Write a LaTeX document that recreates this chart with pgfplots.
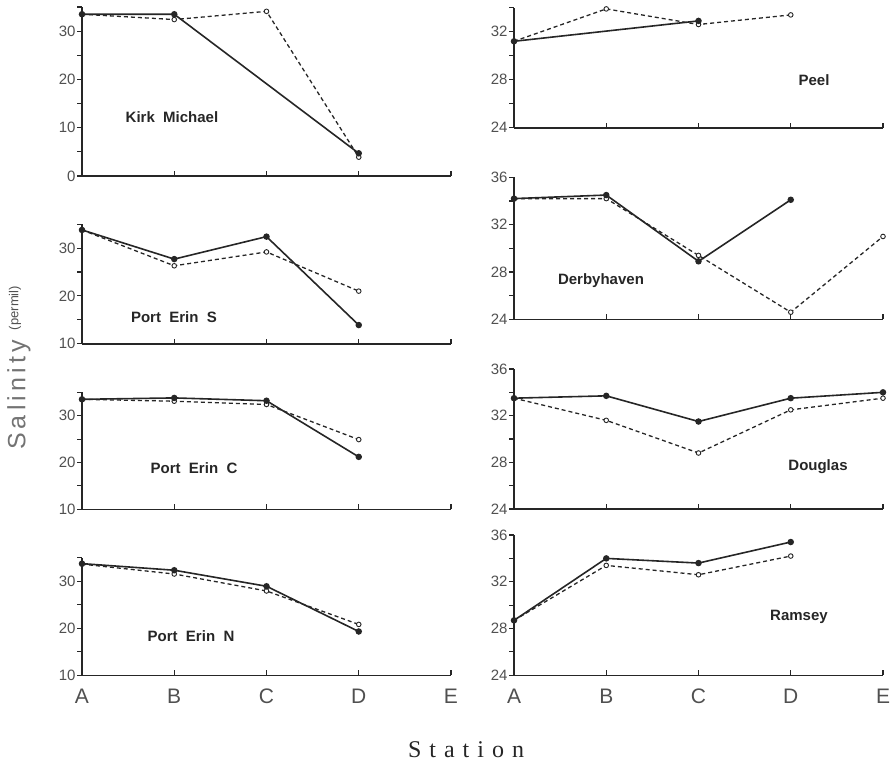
\documentclass[border=0pt]{standalone}
\usepackage{fontspec}
\setmainfont{Liberation Sans}
\newfontfamily\stationfont{Liberation Serif}
\usepackage{pgfplots}
\pgfplotsset{compat=1.18}

\definecolor{ink}{HTML}{262626}
\definecolor{lbl}{HTML}{505050}

\pgfplotsset{
  panel/.style={
    scale only axis, width=369bp,
    axis lines=left, axis line style={-, line width=1.6bp, ink},
    xmin=0, xmax=4, xtick={0,1,2,3,4}, xticklabels={},
    tick align=inside, major tick length=5bp, minor tick length=5bp,
    tick style={line width=1.1bp, ink},
    y tick style={xshift=-5bp},
    minor y tick num=1,
    extra y tick labels={},
    /pgf/number format/assume math mode=true,
    yticklabel style={font=\fontsize{15bp}{17bp}\selectfont, lbl, xshift=-3bp},
    clip=false,
  },
  bottom/.style={xticklabels={A,B,C,D,E},
    xticklabel style={font=\fontsize{21bp}{24bp}\selectfont, lbl, anchor=center, yshift=-21bp}},
  full/.style={ink, line width=1.6bp, mark=*, mark size=2.4bp},
  open/.style={ink, line width=1.3bp, dash pattern=on 4bp off 3bp,
    mark=*, mark size=2.3bp, mark options={solid, fill=white, line width=0.9bp}},
}
\tikzset{stn/.style={font=\fontsize{15bp}{17bp}\selectfont\bfseries, ink}}

\begin{document}
\begin{tikzpicture}
\path[use as bounding box] (0,0) rectangle (893bp,-773bp);

% ---- left column ----
\begin{axis}[panel, at={(82bp,-176bp)}, anchor=south west, height=169bp,
  ymin=0, ymax=35, ytick={0,10,20,30}, extra y ticks={35}]
\addplot[open] coordinates {(0,33.5) (1,32.4) (2,34.1) (3,3.9)};
\addplot[full] coordinates {(0,33.5) (1,33.5) (3,4.7)};
\end{axis}

\begin{axis}[panel, at={(82bp,-343.7bp)}, anchor=south west, height=119.5bp,
  ymin=10, ymax=35, ytick={10,20,30}, extra y ticks={35}]
\addplot[open] coordinates {(0,33.8) (1,26.3) (2,29.2) (3,21.0)};
\addplot[full] coordinates {(0,33.8) (1,27.7) (2,32.4) (3,13.9)};
\end{axis}

\begin{axis}[panel, at={(82bp,-509.3bp)}, anchor=south west, height=117bp,
  ymin=10, ymax=35, ytick={10,20,30}, extra y ticks={35}]
\addplot[open] coordinates {(0,33.5) (1,33.1) (2,32.4) (3,24.9)};
\addplot[full] coordinates {(0,33.5) (1,33.8) (2,33.2) (3,21.2)};
\end{axis}

\begin{axis}[panel, bottom, at={(82bp,-675.3bp)}, anchor=south west, height=117.8bp,
  ymin=10, ymax=35, ytick={10,20,30}, extra y ticks={35}]
\addplot[open] coordinates {(0,33.6) (1,31.5) (2,27.9) (3,20.8)};
\addplot[full] coordinates {(0,33.7) (1,32.3) (2,28.9) (3,19.3)};
\end{axis}

% ---- right column ----
\begin{axis}[panel, at={(514bp,-127.7bp)}, anchor=south west, height=120bp,
  ymin=24, ymax=34, ytick={24,28,32}, extra y ticks={34}]
\addplot[open] coordinates {(0,31.2) (1,33.9) (2,32.6) (3,33.4)};
\addplot[full] coordinates {(0,31.2) (2,32.9)};
\end{axis}

\begin{axis}[panel, at={(514bp,-319.3bp)}, anchor=south west, height=142bp,
  ymin=24, ymax=36, ytick={24,28,32,36}]
\addplot[open] coordinates {(0,34.2) (1,34.2) (2,29.4) (3,24.6) (4,31.0)};
\addplot[full] coordinates {(0,34.2) (1,34.5) (2,28.9) (3,34.1)};
\end{axis}

\begin{axis}[panel, at={(514bp,-509bp)}, anchor=south west, height=140bp,
  ymin=24, ymax=36, ytick={24,28,32,36}]
\addplot[open] coordinates {(0,33.5) (1,31.6) (2,28.8) (3,32.5) (4,33.5)};
\addplot[full] coordinates {(0,33.5) (1,33.7) (2,31.5) (3,33.5) (4,34.0)};
\end{axis}

\begin{axis}[panel, bottom, at={(514bp,-675.3bp)}, anchor=south west, height=140.3bp,
  ymin=24, ymax=36, ytick={24,28,32,36}]
\addplot[open] coordinates {(0,28.7) (1,33.4) (2,32.6) (3,34.2)};
\addplot[full] coordinates {(0,28.7) (1,34.0) (2,33.6) (3,35.4)};
\end{axis}

% ---- panel names ----
\node[stn] at (172bp,-117bp) {Kirk\ \ Michael};
\node[stn] at (174bp,-317bp) {Port\ \ Erin\ \ S};
\node[stn] at (194bp,-468bp) {Port\ \ Erin\ \ C};
\node[stn] at (191bp,-636bp) {Port\ \ Erin\ \ N};
\node[stn] at (814bp,-80bp) {Peel};
\node[stn] at (601bp,-281bp) {Derbyhaven};
\node[stn] at (818bp,-467bp) {Douglas};
\node[stn] at (799bp,-617bp) {Ramsey};

% ---- axis titles ----
\node[rotate=90, lbl!80, font=\fontsize{25bp}{27bp}\selectfont] at (19bp,-395bp)
  {S\,a\,l\,i\,n\,i\,t\,y};
\node[rotate=90, lbl, font=\fontsize{13bp}{15bp}\selectfont] at (15bp,-308bp) {(permil)};
\node[ink, font=\fontsize{24bp}{26bp}\stationfont] at (466bp,-750bp)
  {S\,\,t\,\,a\,\,t\,\,i\,\,o\,\,n};
\end{tikzpicture}
\end{document}
